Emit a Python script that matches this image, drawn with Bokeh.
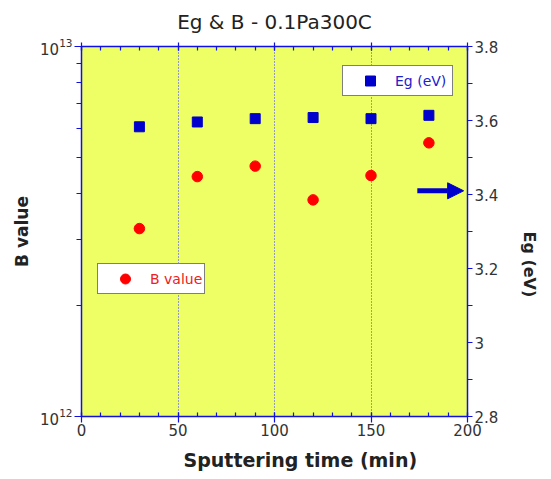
import math
from bokeh.plotting import figure
from bokeh.models import (Range1d, LinearAxis, LinearScale, FixedTicker, SingleIntervalTicker,
                          CustomJSTickFormatter, Legend, LegendItem, Arrow, NormalHead,
                          ColumnDataSource, Title)
from bokeh.embed import file_html
from bokeh.resources import INLINE

# ---- data ----
time_min = [30, 60, 90, 120, 150, 180]
eg_ev = [3.583, 3.596, 3.605, 3.608, 3.605, 3.614]
b_value = [3.22e12, 4.45e12, 4.75e12, 3.85e12, 4.48e12, 5.49e12]

title_text = "Eg & B - 0.1Pa300C"
x_label = "Sputtering  time  (min)"
left_label = "B value"
right_label = "Eg (eV)"
eg_legend = "Eg (eV)"
b_legend = "B value"

x_range = (0, 200)
b_range = (1e12, 1e13)
eg_range = (2.8, 3.8)
b_major = [1e12, 1e13]
b_minor = [k * 1e12 for k in range(2, 10)]
eg_major = [2.8, 3.0, 3.2, 3.4, 3.6, 3.8]
eg_minor = [2.9, 3.1, 3.3, 3.5, 3.7]

AX = "#1010e0"
FONT = "DejaVu Sans"

src = ColumnDataSource(dict(t=time_min, eg=eg_ev, b=b_value))

p = figure(width=551, height=479, x_range=x_range, y_range=b_range,
           y_axis_type="log", output_backend="svg", toolbar_location=None,
           min_border_left=81, min_border_right=84, min_border_top=46,
           min_border_bottom=63, background_fill_color="#EEFF66",
           border_fill_color="white", outline_line_color=None)

p.extra_y_ranges = {"eg": Range1d(*eg_range)}
p.extra_y_scales = {"eg": LinearScale()}

def style_axis(ax):
    ax.axis_line_color = AX
    ax.axis_line_width = 1.5
    ax.major_tick_line_color = AX
    ax.minor_tick_line_color = AX
    ax.major_tick_line_width = 1.2
    ax.minor_tick_line_width = 1.2
    ax.major_label_text_font = FONT
    ax.major_label_text_font_size = "15px"
    ax.major_label_text_color = "#333333"
    ax.axis_label_text_font = FONT
    ax.axis_label_text_font_style = "bold"
    ax.axis_label_text_color = "#222222"

# bottom axis
xa = p.xaxis[0]
style_axis(xa)
xa.ticker = SingleIntervalTicker(interval=50, num_minor_ticks=5)
xa.major_tick_in = 4
xa.major_tick_out = 6
xa.minor_tick_in = 4
xa.minor_tick_out = 0
xa.major_label_standoff = 1

# x axis title (placed below, shifted right as in the reference)
xt = Title(text=x_label, align="left", offset=102, text_font=FONT,
           text_font_size="19px", text_font_style="bold", text_color="#222222",
           standoff=16)
p.add_layout(xt, "below")

# top axis (ticks only) - added first so it sits next to the frame
ta = LinearAxis(ticker=SingleIntervalTicker(interval=50, num_minor_ticks=5),
                formatter=CustomJSTickFormatter(code="return '';"))
style_axis(ta)
ta.major_tick_in = 4
ta.major_tick_out = 4
ta.minor_tick_in = 4
ta.minor_tick_out = 0
ta.major_label_standoff = 0
p.add_layout(ta, "above")

# chart title above the top axis
p.add_layout(Title(text=title_text, align="center", text_font=FONT,
                   text_font_size="20px", text_font_style="normal",
                   text_color="#222222", vertical_align="top", standoff=14), "above")

# left log axis
ya = p.yaxis[0]
style_axis(ya)
ya.ticker = FixedTicker(ticks=b_major, minor_ticks=b_minor)
ya.major_tick_in = 3
ya.major_tick_out = 7
ya.minor_tick_in = 0
ya.minor_tick_out = 5
ya.major_label_standoff = 2
ya.axis_label = left_label
ya.axis_label_text_font_size = "17px"

# right Eg axis
ra = LinearAxis(y_range_name="eg",
                ticker=FixedTicker(ticks=eg_major, minor_ticks=eg_minor),
                formatter=CustomJSTickFormatter(code="return Number(tick.toFixed(1)).toString();"))
style_axis(ra)
ra.major_tick_in = 0
ra.major_tick_out = 5
ra.minor_tick_in = 0
ra.minor_tick_out = 5
ra.major_label_standoff = 2
ra.axis_label = right_label
ra.axis_label_text_font_size = "16px"
ra.axis_label_standoff = 28
ra.axis_label_orientation = -math.pi / 2
p.add_layout(ra, "right")

# grids
p.ygrid.visible = False
p.xgrid.ticker = SingleIntervalTicker(interval=50)
p.xgrid.grid_line_color = "#3a3aff"
p.xgrid.grid_line_dash = "1 2"
p.xgrid.grid_line_width = 1
p.xgrid.grid_line_alpha = 1.0

# data
r_b = p.scatter("t", "b", source=src, marker="circle", size=10.5,
                fill_color="#ff0000", line_color="#ff0000")
r_eg = p.scatter("t", "eg", source=src, marker="square", size=10,
                 fill_color="#0000cc", line_color="#0000cc", y_range_name="eg")

# arrow pointing to the right axis
p.add_layout(Arrow(end=NormalHead(size=16, fill_color="#0000cc", line_color="#0000cc"),
                   x_start=174, y_start=3.41, x_end=198, y_end=3.41,
                   y_range_name="eg", line_color="#0000cc", line_width=5))

def make_legend(label, renderer, color, loc, lw):
    lg = Legend(items=[LegendItem(label=label, renderers=[renderer])],
                location=loc, orientation="vertical")
    lg.border_line_color = "black"
    lg.border_line_width = 1.5
    lg.background_fill_color = "white"
    lg.background_fill_alpha = 1
    lg.label_text_color = color
    lg.label_text_font = FONT
    lg.label_text_font_size = "14px"
    lg.padding = 2
    lg.margin = 0
    lg.glyph_width = 50
    lg.glyph_height = 25
    lg.label_standoff = 0
    lg.label_width = lw
    lg.label_height = 20
    return lg

p.add_layout(make_legend(eg_legend, r_eg, "#2020cc", (261, 320), 55))
p.add_layout(make_legend(b_legend, r_b, "#ee2020", (16, 122), 51))

open("out.html", "w").write(file_html(p, INLINE))
